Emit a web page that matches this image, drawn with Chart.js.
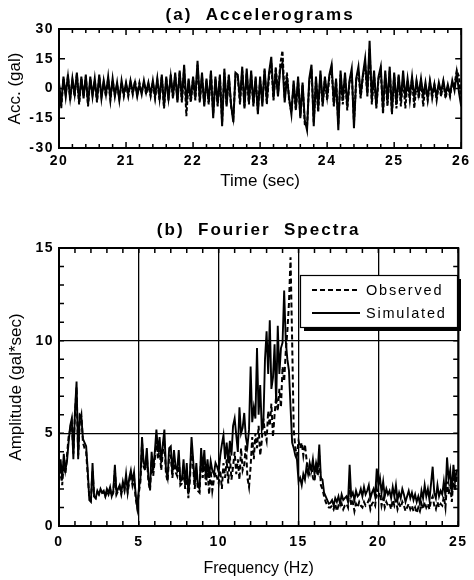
<!DOCTYPE html>
<html><head><meta charset="utf-8">
<script src="https://cdn.jsdelivr.net/npm/chart.js@4"></script>
<style>
html,body{margin:0;padding:0;background:#fff;}
#wrap{position:relative;width:474px;height:580px;background:#fff;}
canvas{position:absolute;left:0;}
</style></head><body>
<div id="wrap">
<canvas id="c1" width="474" height="200" style="top:0px"></canvas>
<canvas id="c2" width="474" height="380" style="top:200px"></canvas>
</div>
<script>
// ---------------- DATA ----------------
// (a) Accelerograms: samples every 1/30 s from 20 s to 26 s
const accStart = 20;
const accStep = 1 / 30;
const accSimulated = [
  3,-8,6,-4,7,-6,5,-3,8,-7, 6,-5,7,-8,6,-4,5,-6,7,-5, 4,-3,6,-5,5,-4,3,-6,4,-3,
  3,-3,4,-2,3,-4,2,-3,4,-2, 3,-3,4,-4,5,-5,7,-9,6,-6, 7,-4,8,-7,9,-6,12,-8,5,-6,
  6,-5,14,-6,8,-9,5,-7,9,-15, 6,-8,7,-19,10,-9,7,-8,-17,8, 7,-6,11,-10,10,-7,9,-8,6,-13,
  6,-9,10,-6,8,16,-5,9,-4,10, 13,-7,6,-5,-13,4,-10,6,-15,3, -16,-21,5,12,-19,6,-10,9,-8,6,
  -4,7,12,-8,5,-21,9,-6,8,-9, 4,10,-20,5,11,-4,7,15,-3,24, -6,9,-9,6,11,-11,9,-7,11,-12,
  8,-8,7,-6,9,-5,5,-4,6,-5, 4,-3,5,-4,3,-5,4,-3,2,-4, 3,-2,4,-3,2,-3,4,-1,8,-2,
  -9
];
const accObserved = [
  2,-10,5,-3,6,-5,4,-4,7,-8, 5,-4,6,-9,5,-3,4,-7,6,-4, 3,-4,5,-6,4,-3,2,-5,3,-4,
  2,-4,3,-3,4,-3,3,-2,3,-3, 2,-4,3,-5,4,-6,6,-10,5,-5, 6,-5,7,-6,8,-7,10,-14,4,-7,
  5,-6,12,-7,6,-8,4,-8,8,-13, 5,-9,6,-17,8,-8,6,-9,-15,7, 6,-8,9,-9,8,-8,7,-9,5,-11,
  4,-7,9,-8,6,13,-6,11,-3,12, 19,-5,8,-6,-12,2,-11,4,-14,2, -18,-19,3,10,-17,4,-12,7,-9,5,
  -6,6,10,-9,4,-18,7,-8,6,-11, 3,8,-17,4,9,-5,6,12,-4,20, -8,7,-10,5,9,-13,7,-9,9,-13,
  7,-10,6,-9,5,-10,4,-6,5,-10, 3,-5,4,-9,2,-6,3,-5,2,-6, 2,-4,3,-5,1,-4,3,2,9,6,
  -6
];
const accXTicks = [20, 21, 22, 23, 24, 25, 26];
const accYTicks = [-30, -15, 0, 15, 30];

// (b) Fourier spectra: samples every 0.1 Hz from 0 to 25 Hz
const specStart = 0;
const specStep = 0.1;
const specObserved = [
  2.4,3.2,2.2,3.5,2.8,3.8,4.8,5.2,5.6,3.9,
  6.0,7.5,3.8,5.6,6.0,4.5,4.2,4.0,2.7,1.5,
  1.4,3.0,1.6,1.5,1.8,1.7,1.9,1.8,1.8,1.6,
  1.9,1.7,2.0,1.6,1.8,3.0,1.7,1.9,2.1,1.7,
  2.2,1.9,2.6,1.8,2.4,2.8,2.2,2.6,1.5,1.0,
  1.8,2.4,4.5,3.2,3.0,3.8,2.4,1.9,3.6,2.7,
  3.6,4.6,3.6,4.2,3.0,4.0,4.6,2.8,2.4,3.8,
  3.8,2.6,3.6,2.9,2.7,3.7,2.2,2.3,3.2,2.0,
  3.0,1.5,2.5,4.3,3.2,2.0,3.0,1.9,1.8,3.7,
  2.6,3.5,2.2,3.1,1.7,3.0,1.9,2.5,2.9,2.6,
  2.3,3.0,2.0,3.4,2.6,3.6,2.3,3.8,2.5,3.2,
  4.0,2.8,3.6,2.5,4.2,3.0,3.3,4.4,2.6,2.1,
  3.2,4.8,3.6,5.0,4.2,5.4,3.8,4.6,5.8,5.0,
  4.6,6.2,5.4,6.6,4.8,6.0,7.0,6.2,7.4,6.4,
  8.6,7.8,9.4,10.5,12.0,14.5,10.0,5.2,4.2,3.8,
  4.6,4.2,4.5,3.8,4.4,3.6,3.0,2.8,3.3,2.6,
  2.4,3.2,2.7,3.8,2.2,2.0,1.6,1.3,1.1,1.0,
  1.0,1.1,0.9,1.2,0.8,1.1,1.0,1.2,0.9,1.1,
  1.2,1.0,2.2,1.1,1.3,0.8,1.2,1.0,1.3,1.1,
  1.0,1.3,1.1,1.2,1.4,0.9,1.2,1.3,1.1,2.0,
  1.6,1.8,1.1,1.5,1.0,1.3,1.1,1.2,0.9,1.4,
  1.1,1.4,0.9,1.2,1.0,1.3,1.1,0.8,1.0,1.2,
  0.9,1.1,0.8,1.0,0.7,1.0,0.8,1.2,0.9,1.3,
  1.0,1.2,0.9,1.4,1.6,1.1,0.9,1.3,1.0,1.2,
  1.1,1.6,1.0,2.4,1.7,2.2,1.3,2.6,1.9,2.6,
  2.8
];
const specSimulated = [
  2.8,3.6,2.5,3.9,3.0,3.5,4.5,5.4,5.8,3.6,
  6.2,7.8,3.6,6.0,5.9,4.7,4.5,4.3,3.0,1.4,
  1.3,3.4,1.6,1.5,1.9,1.7,2.0,1.8,1.9,1.6,
  2.0,1.8,2.1,1.6,1.9,3.3,1.8,2.0,2.2,1.8,
  2.4,2.0,2.8,1.9,2.6,3.0,2.4,2.9,1.7,1.0,
  2.0,2.6,4.8,3.4,3.2,4.2,2.6,2.0,4.0,3.0,
  4.0,5.2,4.0,4.8,3.4,4.4,5.2,3.0,2.6,4.2,
  4.3,2.8,4.1,3.2,3.0,4.1,2.4,2.5,3.6,2.2,
  3.4,1.7,2.8,4.8,3.6,2.2,3.4,2.2,2.0,4.2,
  3.0,4.1,2.6,3.6,2.6,3.5,3.0,2.8,3.4,3.2,
  2.9,3.8,4.4,4.9,3.6,4.5,3.4,4.6,3.8,5.4,
  5.8,4.9,4.0,6.4,5.0,5.3,6.1,4.8,4.3,5.2,
  8.6,5.6,6.4,5.8,9.6,6.0,7.6,5.2,5.6,9.0,
  10.5,8.2,11.1,7.4,8.0,9.8,6.6,10.8,8.2,9.6,
  9.9,12.7,10.0,9.0,8.4,6.4,4.5,4.2,3.8,3.6,
  2.4,2.6,2.2,2.8,2.5,3.2,2.8,3.4,3.0,3.6,
  2.8,3.4,3.0,4.4,2.6,2.5,1.8,1.6,1.4,1.2,
  1.25,1.4,1.1,1.5,1.3,1.6,1.2,1.7,1.4,1.5,
  1.6,1.3,3.3,1.6,1.8,1.4,1.9,1.6,1.7,2.0,
  1.6,2.1,1.7,1.9,2.2,1.5,1.8,2.0,1.6,3.1,
  2.2,2.6,1.8,2.4,1.6,2.0,1.7,1.9,1.5,2.1,
  1.6,2.2,1.4,1.8,1.5,2.0,1.7,1.3,1.6,1.9,
  1.5,1.8,1.4,1.7,1.3,1.6,1.2,1.9,1.5,2.2,
  1.6,2.0,1.4,2.3,3.2,1.8,1.5,2.2,1.6,1.9,
  1.7,2.4,1.6,3.7,2.5,3.0,1.8,3.3,2.4,3.0,
  3.0
];
const specXTicks = [0, 5, 10, 15, 20, 25];
const specYTicks = [0, 5, 10, 15];

// ---------------- HELPERS ----------------
const FONT = "'Liberation Sans', Arial, Helvetica, sans-serif";
const toXY = (vals, start, step) => vals.map((v, i) => ({ x: start + i * step, y: v }));

const labelSpacing = {
  id: 'labelSpacing',
  beforeDraw(chart, args, o) {
    Object.values(chart.scales).forEach(s => {
      if (s._spPatched) return;
      const orig = s.drawLabels;
      s.drawLabels = function (ca) {
        const c = this.ctx; c.save();
        if ('letterSpacing' in c) c.letterSpacing = o.spacing;
        orig.call(this, ca); c.restore();
      };
      s._spPatched = true;
    });
  }
};

const inwardTicks = {
  id: 'inwardTicks',
  afterDatasetsDraw(chart, args, o) {
    const { ctx, chartArea: a, scales: { x, y } } = chart;
    ctx.save();
    ctx.strokeStyle = '#000';
    ctx.lineWidth = o.tickWidth;
    ctx.beginPath();
    const isMajor = (v, m) => Math.abs(v / m - Math.round(v / m)) < 1e-6;
    const nx = Math.round((x.max - x.min) / o.xMinor);
    for (let i = 0; i <= nx; i++) {
      const v = x.min + i * o.xMinor;
      const px = x.getPixelForValue(v);
      const len = isMajor(v, o.xMajor) ? o.majorLen : o.minorLen;
      ctx.moveTo(px, a.bottom); ctx.lineTo(px, a.bottom - len);
      ctx.moveTo(px, a.top); ctx.lineTo(px, a.top + len);
    }
    const ny = Math.round((y.max - y.min) / o.yMinor);
    for (let i = 0; i <= ny; i++) {
      const v = y.min + i * o.yMinor;
      const py = y.getPixelForValue(v);
      const len = isMajor(v, o.yMajor) ? o.majorLen : o.minorLen;
      ctx.moveTo(a.left, py); ctx.lineTo(a.left + len, py);
      ctx.moveTo(a.right, py); ctx.lineTo(a.right - len, py);
    }
    ctx.stroke();
    ctx.lineWidth = o.frameWidth;
    ctx.strokeRect(a.left, a.top, a.right - a.left, a.bottom - a.top);
    ctx.restore();
  }
};

const centeredTitle = {
  id: 'centeredTitle',
  afterDraw(chart, args, o) {
    const { ctx, chartArea: a } = chart;
    ctx.save();
    ctx.font = o.font; ctx.fillStyle = '#000';
    ctx.textAlign = 'center'; ctx.textBaseline = 'middle';
    if ('letterSpacing' in ctx) ctx.letterSpacing = o.spacing;
    ctx.fillText(o.text, (a.left + a.right) / 2 + o.dx, o.y);
    ctx.restore();
  }
};

const boxLegend = {
  id: 'boxLegend',
  afterDraw(chart, args, o) {
    if (!o.show) return;
    const ctx = chart.ctx;
    const { left, top, width, height, shadow } = o;
    ctx.save();
    ctx.fillStyle = '#000';
    ctx.fillRect(left + shadow, top + shadow, width, height);
    ctx.fillStyle = '#fff';
    ctx.fillRect(left, top, width, height);
    ctx.strokeStyle = '#000'; ctx.lineWidth = 1.2;
    ctx.strokeRect(left + 0.5, top + 0.5, width, height);
    chart.data.datasets.forEach((ds, i) => {
      const yy = top + o.rowTop + i * o.rowGap;
      ctx.beginPath();
      ctx.setLineDash(ds.borderDash || []);
      ctx.lineWidth = ds.borderWidth;
      ctx.strokeStyle = ds.borderColor;
      ctx.moveTo(left + o.lineX0, yy); ctx.lineTo(left + o.lineX1, yy);
      ctx.stroke();
      ctx.setLineDash([]);
      ctx.font = o.font; ctx.fillStyle = '#000';
      ctx.textAlign = 'left'; ctx.textBaseline = 'middle';
      if ('letterSpacing' in ctx) ctx.letterSpacing = o.spacing;
      ctx.fillText(ds.label, left + o.textX, yy + 1);
    });
    ctx.restore();
  }
};

const tickFont = { family: FONT, size: 14, weight: 'bold' };

// ---------------- CHART (a) ----------------
new Chart(document.getElementById('c1'), {
  type: 'line',
  data: {
    datasets: [
      { label: 'Observed', data: toXY(accObserved, accStart, accStep), borderColor: '#000',
        borderWidth: 2, borderDash: [4, 2], pointRadius: 0, tension: 0, fill: false },
      { label: 'Simulated', data: toXY(accSimulated, accStart, accStep), borderColor: '#000',
        borderWidth: 2, pointRadius: 0, tension: 0, fill: false }
    ]
  },
  options: {
    responsive: false, animation: false, devicePixelRatio: 1,
    layout: { padding: { top: 29, right: 11, left: 0, bottom: 0 } },
    plugins: {
      legend: { display: false }, tooltip: { enabled: false },
      labelSpacing: { spacing: '1.5px' },
      inwardTicks: { xMinor: 0.2, xMajor: 1, yMinor: 15, yMajor: 15, minorLen: 4, majorLen: 6, tickWidth: 1.5, frameWidth: 2 },
      centeredTitle: { text: '(a)  Accelerograms', font: 'bold 17px ' + FONT, spacing: '2px', y: 15, dx: 0 },
      boxLegend: { show: false }
    },
    scales: {
      x: {
        type: 'linear', min: 20, max: 26,
        afterBuildTicks: s => { s.ticks = accXTicks.map(v => ({ value: v })); },
        grid: { display: false, drawTicks: false }, border: { display: false },
        ticks: { font: tickFont, color: '#000', padding: 5, maxRotation: 0, autoSkip: false },
        title: { display: true, text: 'Time (sec)', color: '#000', font: { family: FONT, size: 17 }, padding: { top: 0, bottom: 8 } },
        afterFit: s => { s.height = 52; }
      },
      y: {
        type: 'linear', min: -30, max: 30,
        afterBuildTicks: s => { s.ticks = accYTicks.map(v => ({ value: v })); },
        grid: { display: false, drawTicks: false }, border: { display: false },
        ticks: { font: tickFont, color: '#000', padding: 5, autoSkip: false },
        title: { display: true, text: 'Acc. (gal)', color: '#000', font: { family: FONT, size: 17 }, padding: { top: 5, bottom: 0 } },
        afterFit: s => { s.width = 59; }
      }
    }
  },
  plugins: [labelSpacing, inwardTicks, centeredTitle, boxLegend]
});

// ---------------- CHART (b) ----------------
new Chart(document.getElementById('c2'), {
  type: 'line',
  data: {
    datasets: [
      { label: 'Observed', data: toXY(specObserved, specStart, specStep), borderColor: '#000',
        borderWidth: 2, borderDash: [5, 3], pointRadius: 0, tension: 0, fill: false },
      { label: 'Simulated', data: toXY(specSimulated, specStart, specStep), borderColor: '#000',
        borderWidth: 1.9, pointRadius: 0, tension: 0, fill: false }
    ]
  },
  options: {
    responsive: false, animation: false, devicePixelRatio: 1,
    layout: { padding: { top: 48, right: 11, left: 0, bottom: 0 } },
    plugins: {
      legend: { display: false }, tooltip: { enabled: false },
      labelSpacing: { spacing: '1.5px' },
      inwardTicks: { xMinor: 1, xMajor: 5, yMinor: 1, yMajor: 5, minorLen: 5, majorLen: 5, tickWidth: 1.5, frameWidth: 2 },
      centeredTitle: { text: '(b)  Fourier  Spectra', font: 'bold 17px ' + FONT, spacing: '2px', y: 30, dx: 0 },
      boxLegend: { show: true, left: 300, top: 75, width: 157, height: 52, shadow: 4,
        rowTop: 15, rowGap: 23, lineX0: 12, lineX1: 60, textX: 66, font: '14.5px ' + FONT, spacing: '1.8px' }
    },
    scales: {
      x: {
        type: 'linear', min: 0, max: 25,
        afterBuildTicks: s => { s.ticks = specXTicks.map(v => ({ value: v })); },
        grid: { display: true, color: '#000', lineWidth: 1.3, drawTicks: false }, border: { display: false },
        ticks: { font: tickFont, color: '#000', padding: 8, maxRotation: 0, autoSkip: false },
        title: { display: true, text: 'Frequency (Hz)', color: '#000', font: { family: FONT, size: 16 }, padding: { top: 0, bottom: 2 } },
        afterFit: s => { s.height = 54; }
      },
      y: {
        type: 'linear', min: 0, max: 15,
        afterBuildTicks: s => { s.ticks = specYTicks.map(v => ({ value: v })); },
        grid: { display: true, color: '#000', lineWidth: 1.3, drawTicks: false }, border: { display: false },
        ticks: { font: tickFont, color: '#000', padding: 5, autoSkip: false },
        title: { display: true, text: 'Amplitude (gal*sec)', color: '#000', font: { family: FONT, size: 17 }, padding: { top: 6, bottom: 0 } },
        afterFit: s => { s.width = 59; }
      }
    }
  },
  plugins: [labelSpacing, inwardTicks, centeredTitle, boxLegend]
});
</script>
</body></html>
